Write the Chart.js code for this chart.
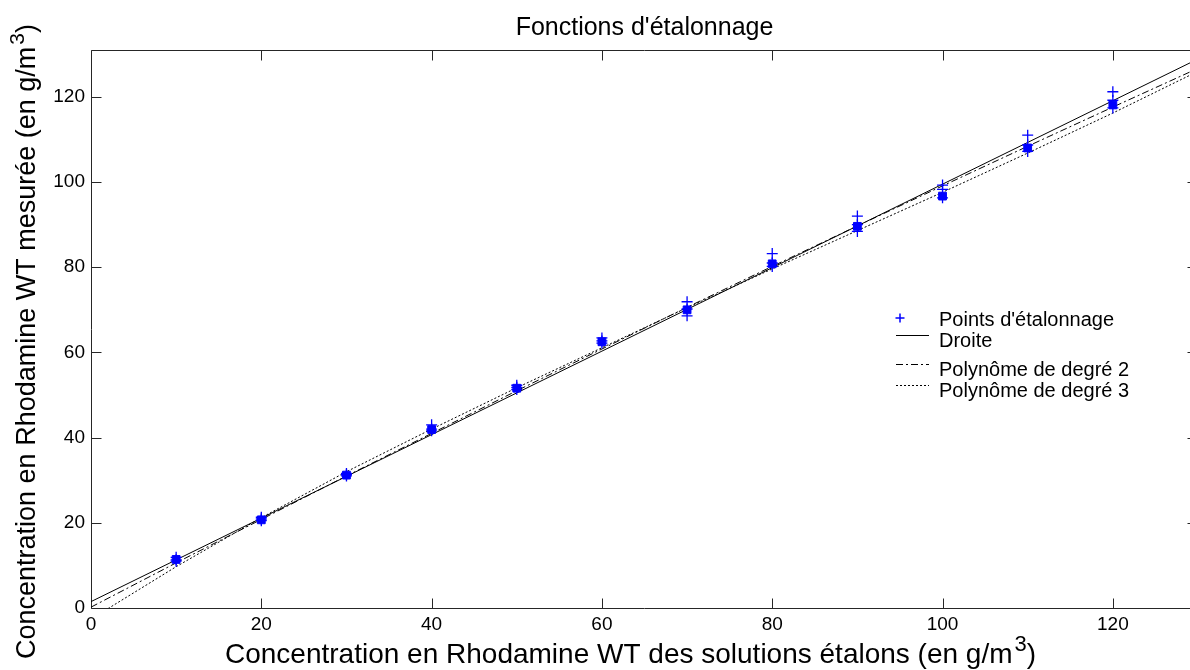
<!DOCTYPE html>
<html lang="fr">
<head>
<meta charset="utf-8">
<title>Fonctions d'étalonnage</title>
<script src="https://cdn.jsdelivr.net/npm/chart.js@4.4.1/dist/chart.umd.min.js"></script>
<style>
  html, body { margin: 0; padding: 0; background: #fff; overflow: hidden; width: 1190px; height: 670px; }
  /* le cadre de droite sort légèrement de la figure, comme dans l'original */
  #wrap { width: 1190px; height: 670px; overflow: hidden; position: relative; }
  #etalonnage { position: absolute; left: 0; top: 0; }
</style>
</head>
<body>
<div id="wrap"><canvas id="etalonnage" width="1198" height="670"></canvas></div>
<script>
// concentrations des solutions étalons (g/m3)
const concentrations = [10, 20, 30, 40, 50, 60, 70, 80, 90, 100, 110, 120];
// mesures répétées (croix)
const mesures1 = [11.9, 21.3, 31.6, 43.0, 52.3, 63.4, 71.9, 83.2, 92.0, 99.3, 111.0, 121.2];
const mesures2 = [11.3, 20.5, 31.0, 41.6, 51.3, 62.2, 68.6, 80.2, 88.4, 98.3, 108.7, 119.2];
const mesures3 = [11.0, 20.9, 31.3, 42.0, 51.8, 62.7, 70.2, 81.0, 90.0, 96.3, 107.2, 117.4];
// paquets de points superposés
const moyennes = [11.4, 20.7, 31.2, 41.9, 51.6, 62.5, 70.0, 80.8, 89.6, 96.7, 108.0, 118.1];

// courbes d'étalonnage
const courbeX = [0, 10, 20, 30, 40, 50, 60, 70, 80, 90, 100, 110, 120, 130];
const droiteY = [1.5, 11.3, 21.1, 30.9, 40.7, 50.5, 60.3, 70.1, 79.9, 89.7, 99.5, 109.3, 119.1, 128.9];
const poly2Y = [0.2, 10.6, 20.8, 31.0, 41.0, 51.0, 60.8, 70.6, 80.2, 89.7, 99.1, 108.4, 117.6, 126.7];
const poly3Y = [-2.6, 9.7, 21.2, 32.0, 42.0, 51.7, 61.1, 70.5, 79.6, 88.6, 97.6, 106.8, 116.2, 126.0];

const xTicks = [0, 20, 40, 60, 80, 100, 120];
const yTicks = [0, 20, 40, 60, 80, 100, 120];

const seriesLabels = ["Points d'étalonnage", 'Droite', 'Polynôme de degré 2', 'Polynôme de degré 3'];
// titres d'axes : texte, exposant, fin
const xTitle = ['Concentration en Rhodamine WT des solutions étalons (en g/m', '3', ')'];
const yTitle = ['Concentration en Rhodamine WT mesurée (en g/m', '3', ')'];

const police = '"Liberation Sans", Arial, Helvetica, sans-serif';
const bleu = '#0000ff';

const toPoints = (xs, ys) => xs.map((x, i) => ({ x: x, y: ys[i] }));

const croix = (values, label) => ({
    label: label,
    data: toPoints(concentrations, values),
    pointStyle: 'cross',
    pointRadius: 5.5,
    borderColor: bleu,
    borderWidth: 1.3,
    showLine: false,
    order: 0
});

const courbe = (values, label, dash) => ({
    label: label,
    data: toPoints(courbeX, values),
    showLine: true,
    pointRadius: 0,
    borderColor: '#000',
    borderWidth: 1,
    borderDash: dash,
    fill: false,
    order: 1
});

// texte avec exposant (g/m^3)
const texteExposant = (ctx, parts, size) => {
    let w = 0;
    ctx.font = size + 'px ' + police;
    ctx.fillText(parts[0], 0, 0);
    w += ctx.measureText(parts[0]).width + 2;
    ctx.font = Math.round(size * 0.78) + 'px ' + police;
    ctx.fillText(parts[1], w, -size * 0.42);
    w += ctx.measureText(parts[1]).width;
    ctx.font = size + 'px ' + police;
    ctx.fillText(parts[2], w, 0);
};

// cadre façon MATLAB : bordure + graduations vers l'intérieur
const cadre = {
    id: 'cadre',
    beforeDatasetsDraw(chart) {
        const { ctx, chartArea: a, scales: { x, y } } = chart;
        const L = Math.round(a.left) + 0.5;
        const B = Math.round(a.bottom) + 0.5;
        const T = Math.round(a.top) + 0.5;
        const R = Math.round(a.right) - 0.5;
        const len = 10;
        ctx.save();
        ctx.strokeStyle = '#262626';
        ctx.lineWidth = 1;
        ctx.beginPath();
        ctx.moveTo(R, T);
        ctx.lineTo(L, T);
        ctx.lineTo(L, B);
        ctx.lineTo(R, B);
        xTicks.forEach(v => {
            const px = Math.round(x.getPixelForValue(v)) + 0.5;
            ctx.moveTo(px, B);
            ctx.lineTo(px, B - len);
            ctx.moveTo(px, T);
            ctx.lineTo(px, T + len);
        });
        yTicks.forEach(v => {
            const py = Math.round(y.getPixelForValue(v)) + 0.5;
            ctx.moveTo(L, py);
            ctx.lineTo(L + len, py);
            ctx.moveTo(R, py);
            ctx.lineTo(R - len, py);
        });
        ctx.stroke();
        ctx.restore();
    },
    afterDraw(chart) {
        const ctx = chart.ctx;
        ctx.save();
        ctx.fillStyle = '#000';
        ctx.textBaseline = 'alphabetic';
        ctx.textAlign = 'left';
        ctx.translate(225, 663);
        texteExposant(ctx, xTitle, 28);
        ctx.restore();

        ctx.save();
        ctx.fillStyle = '#000';
        ctx.textBaseline = 'alphabetic';
        ctx.textAlign = 'left';
        ctx.translate(35, 659);
        ctx.rotate(-Math.PI / 2);
        texteExposant(ctx, yTitle, 27);
        ctx.restore();
    }
};

// légende placée dans la zone de tracé
const legende = {
    id: 'legende',
    afterDraw(chart) {
        const ctx = chart.ctx;
        const rows = [318, 339, 368, 389];
        const x0 = 896, x1 = 929, tx = 939;
        ctx.save();
        ctx.font = '20px ' + police;
        ctx.textBaseline = 'middle';
        ctx.fillStyle = '#000';

        ctx.strokeStyle = bleu;
        ctx.lineWidth = 1.5;
        ctx.beginPath();
        ctx.moveTo(900, rows[0] - 4.5);
        ctx.lineTo(900, rows[0] + 4.5);
        ctx.moveTo(895.5, rows[0]);
        ctx.lineTo(904.5, rows[0]);
        ctx.stroke();

        const dashes = [[], [7, 3, 2, 3], [2, 2]];
        ctx.strokeStyle = '#000';
        ctx.lineWidth = 1;
        dashes.forEach((d, i) => {
            const yy = rows[i + 1] - 3.5;
            ctx.setLineDash(d);
            ctx.beginPath();
            ctx.moveTo(x0, yy);
            ctx.lineTo(x1, yy);
            ctx.stroke();
        });
        ctx.setLineDash([]);

        seriesLabels.forEach((t, i) => {
            ctx.fillText(t, tx, rows[i] + 2);
        });
        ctx.restore();
    }
};

new Chart(document.getElementById('etalonnage'), {
    type: 'scatter',
    data: {
        datasets: [
            croix(mesures1, seriesLabels[0]),
            croix(mesures2, seriesLabels[0]),
            croix(mesures3, seriesLabels[0]),
            {
                label: seriesLabels[0],
                data: toPoints(concentrations, moyennes),
                pointStyle: 'rect',
                pointRadius: 5.5,
                backgroundColor: bleu,
                borderColor: bleu,
                borderWidth: 1,
                showLine: false,
                order: 0
            },
            courbe(droiteY, seriesLabels[1], []),
            courbe(poly2Y, seriesLabels[2], [7, 3, 2, 3]),
            courbe(poly3Y, seriesLabels[3], [2, 2])
        ]
    },
    options: {
        responsive: false,
        animation: false,
        layout: { padding: 0, autoPadding: false },
        plugins: {
            legend: { display: false },
            tooltip: { enabled: false },
            title: {
                display: true,
                fullSize: false,
                text: "Fonctions d'étalonnage",
                color: '#000',
                font: { family: police, size: 25, weight: 'normal' },
                padding: { top: 13, bottom: 7 }
            }
        },
        scales: {
            x: {
                type: 'linear',
                min: 0,
                max: 130,
                afterFit: (scale) => {
                    scale.height = 62;
                    scale.paddingLeft = 0;
                    scale.paddingRight = 0;
                },
                afterBuildTicks: (scale) => { scale.ticks = xTicks.map(v => ({ value: v })); },
                grid: { display: false, drawTicks: false },
                border: { display: false },
                ticks: {
                    color: '#000',
                    padding: 5,
                    maxRotation: 0,
                    font: { family: police, size: 19 }
                }
            },
            y: {
                type: 'linear',
                min: 0,
                max: 131,
                afterFit: (scale) => {
                    scale.width = 91;
                    scale.paddingTop = 0;
                    scale.paddingBottom = 0;
                },
                afterBuildTicks: (scale) => { scale.ticks = yTicks.map(v => ({ value: v })); },
                grid: { display: false, drawTicks: false },
                border: { display: false },
                ticks: {
                    color: '#000',
                    padding: 6,
                    font: { family: police, size: 19 }
                }
            }
        }
    },
    plugins: [cadre, legende]
});
</script>
</body>
</html>
